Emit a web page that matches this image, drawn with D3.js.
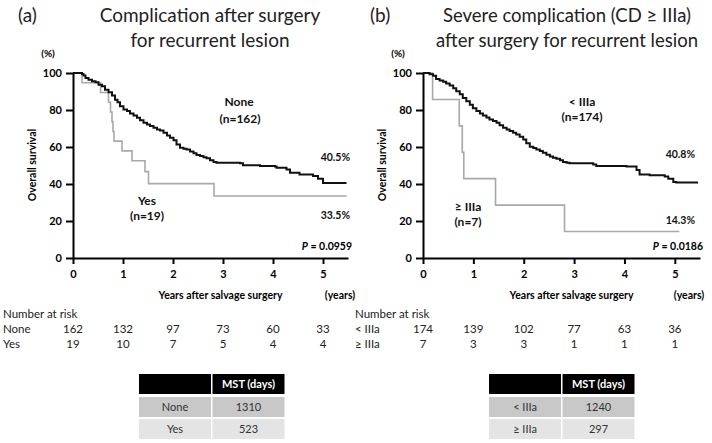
<!DOCTYPE html>
<html><head><meta charset="utf-8">
<script src="https://cdn.jsdelivr.net/npm/d3@7/dist/d3.min.js"></script>
<style>body{margin:0;background:#fff}svg{display:block}text{font-family:Lato,"Open Sans",sans-serif}</style>
</head><body><svg id="c" width="712" height="443"></svg>
<script>
// ---------- data ----------
const yTicks = [0, 20, 40, 60, 80, 100];
const xTicks = [0, 1, 2, 3, 4, 5];

// Panel (a)
const aNoneYears = [0,0.18,0.21,0.25,0.31,0.38,0.45,0.51,0.58,0.64,0.71,0.78,0.84,0.89,0.94,1.01,1.08,1.14,1.21,1.28,1.34,1.41,1.48,1.54,1.61,1.68,1.74,1.81,1.88,1.94,2.01,2.07,2.14,2.21,2.27,2.34,2.41,2.47,2.54,2.61,2.67,2.74,2.81,2.87,3.34,3.40,3.74,4.04,4.07,4.27,4.34,4.53,4.80,4.90,5.00,5.47];
const aNoneSurv  = [100,99.5,98.6,97.3,96.4,95.5,95,93.7,92.8,91,89.6,87.8,85.6,84.2,82,80.3,79.4,78.1,77,75.8,74.5,73.1,72.2,71.3,70.4,69.5,68.9,67.7,66.2,65,63.7,61.4,59.6,59.1,58.7,57.6,56.6,55.7,55.1,54.4,53.9,52.8,51.9,51.5,51.2,50.1,49.7,49.4,48.8,47.9,46.1,45.2,44.3,42.9,40.5,40.5];
const aYesYears  = [0,0.18,0.55,0.71,0.75,0.78,0.80,0.82,0.98,1.18,1.44,1.51,2.82,5.47];
const aYesSurv   = [100,94.7,89.5,84.2,78.9,73.7,68.4,63.2,57.9,52.6,46.7,40.2,33.5,33.5];
const aRiskGroups = ["None", "Yes"];
const aRiskNone = [162, 132, 97, 73, 60, 33];
const aRiskYes  = [19, 10, 7, 5, 4, 4];
const aMstGroups = ["None", "Yes"];
const aMstDays = [1310, 523];

// Panel (b)
const bLowYears = [0,0.13,0.2,0.26,0.33,0.40,0.46,0.53,0.6,0.66,0.73,0.79,0.86,0.93,0.99,1.06,1.13,1.19,1.26,1.32,1.39,1.46,1.52,1.59,1.66,1.72,1.79,1.85,1.92,1.99,2.05,2.12,2.19,2.25,2.32,2.38,2.45,2.52,2.58,2.65,2.72,2.78,2.85,2.91,3.38,3.44,4.04,4.24,4.30,4.50,4.80,4.87,4.97,5.03,5.46];
const bLowSurv  = [100,99.3,98.5,96.8,96,95.3,94.3,93.2,91.7,90.1,88.5,86.5,84.7,82.9,81,79.4,78.1,77,76,74.9,74,73.1,71.7,70.4,69.5,68.6,67.7,66.8,65.5,64.1,62,60.1,59.4,58.7,57.8,56.9,55.8,54.8,54.2,53.7,52.8,51.9,51.5,51.2,50.6,49.7,49.4,47.6,45.2,44.7,44,42.9,41.1,40.8,40.8];
const bHighYears = [0,0.19,0.72,0.78,0.81,1.44,2.81,5.09];
const bHighSurv  = [100,85.7,71.4,57.1,42.9,28.6,14.3,14.3];
const bRiskGroups = ["< IIIa", "\u2265 IIIa"];
const bRiskLow  = [174, 139, 102, 77, 63, 36];
const bRiskHigh = [7, 3, 3, 1, 1, 1];
const bMstGroups = ["< IIIa", "\u2265 IIIa"];
const bMstDays = [1240, 297];

// ---------- drawing ----------
const svg = d3.select("#c");
svg.append("rect").attr("width",712).attr("height",443).attr("fill","#fff");

function panel(cfg) {
  const g = svg.append("g");
  const x = d3.scaleLinear().domain([0, 5.5]).range([cfg.x0, cfg.x1]);
  const y = d3.scaleLinear().domain([0, 100]).range([258, 73]);

  // titles
  g.append("text").attr("x", cfg.tagX).attr("y", 22).attr("font-size", 19).attr("fill","#222").text(cfg.tag);
  cfg.title.forEach((t, i) => g.append("text").attr("x", cfg.titleX).attr("y", 22 + i * 25)
      .attr("text-anchor","middle").attr("font-size", cfg.titleSize).attr("fill","#222").text(t));

  // axes
  const ya = g.append("g").attr("transform", `translate(${cfg.x0},0)`)
    .call(d3.axisLeft(y).tickValues(yTicks).tickSize(7).tickSizeOuter(0).tickPadding(4).tickFormat(d3.format("d")));
  const xa = g.append("g").attr("transform", `translate(0,258)`)
    .call(d3.axisBottom(x).tickValues(xTicks).tickSize(6).tickSizeOuter(0).tickPadding(6).tickFormat(d3.format("d")));
  [ya, xa].forEach(a => {
    a.selectAll("path,line").attr("stroke","#000").attr("stroke-width",2);
    a.selectAll("text").attr("font-size",11).attr("font-weight","bold").attr("fill","#000")
      .style("font-family","Lato, sans-serif");
  });
  g.append("text").attr("x", cfg.x0 - 25).attr("y", 57).attr("text-anchor","middle")
    .attr("font-size",10).attr("font-weight","bold").text("(%)");
  g.append("text").attr("transform", `translate(${cfg.x0 - 37},165) rotate(-90)`).attr("text-anchor","middle")
    .attr("font-size",10.5).attr("font-weight","bold").text("Overall survival");
  g.append("text").attr("x", x(2.95)).attr("y", 299).attr("text-anchor","middle")
    .attr("font-size",10.5).attr("font-weight","bold").text("Years after salvage surgery");
  g.append("text").attr("x", cfg.x0 + cfg.yearsDx).attr("y", 299).attr("text-anchor","middle")
    .attr("font-size",10.5).attr("font-weight","bold").text("(years)");

  // curves
  const line = d3.line().curve(d3.curveStepAfter).x(d => x(d[0])).y(d => y(d[1]));
  g.append("path").datum(d3.zip(cfg.grayYears, cfg.graySurv)).attr("d", line)
    .attr("fill","none").attr("stroke","#a8a8a8").attr("stroke-width",1.6);
  g.append("path").datum(d3.zip(cfg.blackYears, cfg.blackSurv)).attr("d", line)
    .attr("fill","none").attr("stroke","#111").attr("stroke-width",2);

  // curve labels
  const lab = (t, xx, yy, anchor, size) => g.append("text").attr("x", xx).attr("y", yy)
    .attr("text-anchor", anchor || "middle").attr("font-size", size || 12).attr("font-weight","bold").attr("fill","#111").text(t);
  cfg.labels.forEach(l => lab(l[0], l[1], l[2], l[3], l[4]));
  const p = g.append("text").attr("x", cfg.pX).attr("y", 250).attr("text-anchor","end")
    .attr("font-size",10.5).attr("font-weight","bold");
  p.append("tspan").attr("font-style","italic").text("P");
  p.append("tspan").text(" = " + cfg.p);

  // risk table
  g.append("text").attr("x", cfg.riskX).attr("y", 318).attr("font-size",11.5).attr("fill","#222").text("Number at risk");
  cfg.riskRows.forEach((row, i) => {
    g.append("text").attr("x", cfg.riskX).attr("y", 333 + i * 14.5).attr("font-size",11.5).attr("fill","#222").text(cfg.riskGroups[i]);
    row.forEach((v, j) => g.append("text").attr("x", x(xTicks[j])).attr("y", 333 + i * 14.5)
      .attr("text-anchor","middle").attr("font-size",11.5).attr("fill","#222").text(v));
  });

  // MST table
  const tx = cfg.tableX, cw = [72, 72];
  const rows = [["", "MST (days)"]].concat(cfg.mstGroups.map((gname, i) => [gname, String(cfg.mstDays[i])]));
  const fills = ["#000", "#c8c8c8", "#e4e4e4"];
  const rowY = [374, 397, 419], rowH = [20, 20, 20];
  rows.forEach((r, i) => {
    r.forEach((t, j) => {
      const cx = tx + (j === 0 ? 0 : cw[0] + 1.5);
      g.append("rect").attr("x", cx).attr("y", rowY[i]).attr("width", cw[j]).attr("height", rowH[i]).attr("fill", fills[i]);
      g.append("text").attr("x", cx + cw[j] / 2).attr("y", rowY[i] + 14).attr("text-anchor","middle")
        .attr("font-size", 11).attr("font-weight", i === 0 ? "bold" : "normal")
        .attr("fill", i === 0 ? "#fff" : "#333").text(t);
    });
  });
}

panel({
  x0: 73, x1: 348, tag: "(a)", tagX: 18, titleX: 210, titleSize: 19,
  title: ["Complication after surgery", "for recurrent lesion"],
  yearsDx: 267,
  blackYears: aNoneYears, blackSurv: aNoneSurv, grayYears: aYesYears, graySurv: aYesSurv,
  labels: [["None", 239, 106], ["(n=162)", 240, 123], ["Yes", 147, 205], ["(n=19)", 147, 220],
           ["40.5%", 350, 161, "end", 10.5], ["33.5%", 350, 219, "end", 10.5]],
  p: "0.0959", pX: 352,
  riskX: 3, riskGroups: aRiskGroups, riskRows: [aRiskNone, aRiskYes],
  mstGroups: aMstGroups, mstDays: aMstDays, tableX: 139
});
panel({
  x0: 423, x1: 700, tag: "(b)", tagX: 370, titleX: 567, titleSize: 18.5,
  title: ["Severe complication (CD \u2265 IIIa)", "after surgery for recurrent lesion"],
  yearsDx: 266,
  blackYears: bLowYears, blackSurv: bLowSurv, grayYears: bHighYears, graySurv: bHighSurv,
  labels: [["< IIIa", 582, 106], ["(n=174)", 582, 121], ["\u2265 IIIa", 468, 211], ["(n=7)", 468, 226],
           ["40.8%", 695, 158, "end", 10.5], ["14.3%", 695, 224, "end", 10.5]],
  p: "0.0186", pX: 703,
  riskX: 355, riskGroups: bRiskGroups, riskRows: [bRiskLow, bRiskHigh],
  mstGroups: bMstGroups, mstDays: bMstDays, tableX: 489
});
</script></body></html>
